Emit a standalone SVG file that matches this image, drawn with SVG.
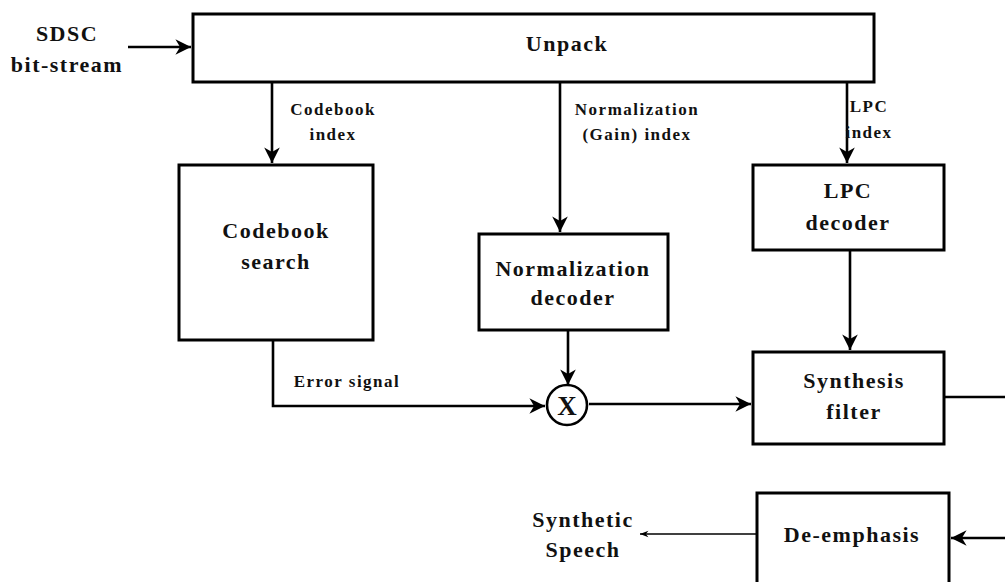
<svg xmlns="http://www.w3.org/2000/svg" width="1005" height="582" viewBox="0 0 1005 582">
  <style>
    .box { fill: #fff; stroke: #000; stroke-width: 3; }
    .wire { fill: none; stroke: #000; stroke-width: 2.6; }
    .thin { fill: none; stroke: #000; stroke-width: 1.4; }
    text { font-family: "Liberation Serif", "Times New Roman", serif; font-weight: bold; fill: #111; text-anchor: middle; }
    .big { font-size: 22px; letter-spacing: 1.5px; }
    .small { font-size: 17px; letter-spacing: 1.5px; }
  </style>
  <defs>
    <marker id="arrow" viewBox="0 0 10 10" refX="10" refY="5" markerWidth="6" markerHeight="6" markerUnits="strokeWidth" orient="auto">
      <path d="M0,0 L10,5 L0,10 L3,5 Z" fill="#000"/>
    </marker>
    <marker id="arrowThin" viewBox="0 0 10 10" refX="10" refY="5" markerWidth="7" markerHeight="6" markerUnits="strokeWidth" orient="auto">
      <path d="M0,1 L10,5 L0,9 L3,5 Z" fill="#000"/>
    </marker>
  </defs>
  <rect width="1005" height="582" fill="#fff"/>

  <!-- connectors -->
  <g id="connectors">
    <path class="wire" d="M128,47 L191,47" marker-end="url(#arrow)"/>
    <path class="wire" d="M272,82 L272,163" marker-end="url(#arrow)"/>
    <path class="wire" d="M560,82 L560,232" marker-end="url(#arrow)"/>
    <path class="wire" d="M847,82 L847,163" marker-end="url(#arrow)"/>
    <path class="wire" d="M850,250 L850,350" marker-end="url(#arrow)"/>
    <path class="wire" d="M568,330 L568,385" marker-end="url(#arrow)"/>
    <path class="wire" d="M273,340 L273,406 L545,406" marker-end="url(#arrow)"/>
    <path class="wire" d="M589,404 L751,404" marker-end="url(#arrow)"/>
    <path class="wire" d="M944,397 L1005,397"/>
    <path class="wire" d="M1005,538 L951,538" marker-end="url(#arrow)"/>
    <path class="thin" d="M757,534 L640,534" marker-end="url(#arrowThin)"/>
    <text class="small" x="333" y="115">Codebook</text>
    <text class="small" x="333" y="140">index</text>
    <text class="small" x="637" y="115">Normalization</text>
    <text class="small" x="637" y="140">(Gain) index</text>
    <text class="small" x="869" y="112">LPC</text>
    <text class="small" x="869" y="138">index</text>
    <text class="small" x="347" y="387">Error signal</text>
  </g>

  <g id="input">
    <text class="big" x="67" y="41">SDSC</text>
    <text class="big" x="67" y="72">bit-stream</text>
  </g>

  <g id="unpack">
    <rect class="box" x="193" y="14" width="681" height="68"/>
    <text class="big" x="567" y="51">Unpack</text>
  </g>

  <g id="codebook-search">
    <rect class="box" x="179" y="165" width="194" height="175"/>
    <text class="big" x="276" y="238">Codebook</text>
    <text class="big" x="276" y="269">search</text>
  </g>

  <g id="normalization-decoder">
    <rect class="box" x="479" y="234" width="189" height="96"/>
    <text class="big" x="573" y="276">Normalization</text>
    <text class="big" x="573" y="305">decoder</text>
  </g>

  <g id="lpc-decoder">
    <rect class="box" x="753" y="165" width="191" height="85"/>
    <text class="big" x="848" y="198">LPC</text>
    <text class="big" x="848" y="230">decoder</text>
  </g>

  <g id="multiplier">
    <circle cx="567" cy="405" r="20" fill="#fff" stroke="#000" stroke-width="2.6"/>
    <text x="567" y="415" style="font-size:27px">X</text>
  </g>

  <g id="synthesis-filter">
    <rect class="box" x="753" y="352" width="191" height="92"/>
    <text class="big" x="854" y="388">Synthesis</text>
    <text class="big" x="854" y="419">filter</text>
  </g>

  <g id="de-emphasis">
    <rect class="box" x="757" y="493" width="192" height="100"/>
    <text class="big" x="852" y="542">De-emphasis</text>
  </g>

  <g id="output">
    <text class="big" x="583" y="527">Synthetic</text>
    <text class="big" x="583" y="557">Speech</text>
  </g>
</svg>
